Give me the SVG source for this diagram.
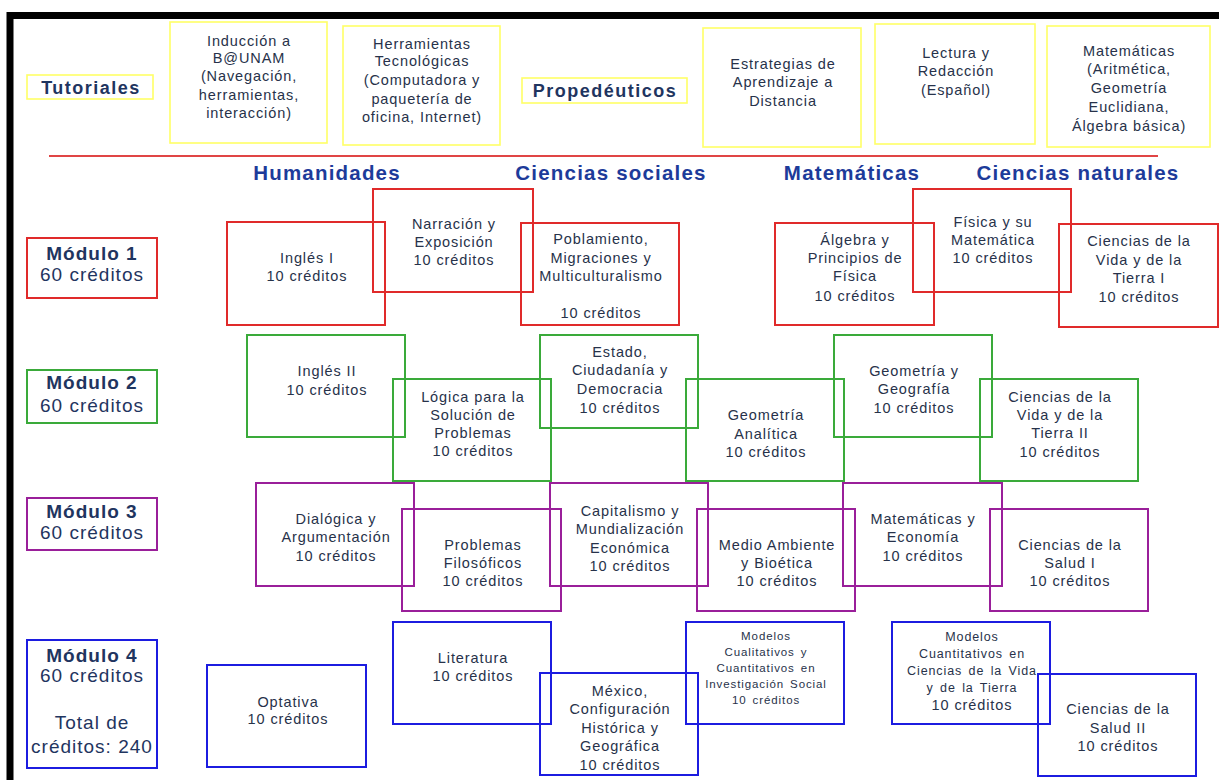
<svg xmlns="http://www.w3.org/2000/svg" width="1219" height="780" viewBox="0 0 1219 780">
<style>
text{font-family:"Liberation Sans",Arial,sans-serif;text-anchor:middle}
.t{font-size:14.5px;letter-spacing:0.9px;fill:#27324a}
.s{font-size:11.5px;letter-spacing:0.9px;word-spacing:2px;fill:#27324a}
.s2{font-size:12.5px;letter-spacing:0.9px;word-spacing:2px;fill:#27324a}
.h{font-size:20.5px;font-weight:bold;letter-spacing:1.2px;fill:#1d3b9a}
.lab{font-size:18px;font-weight:bold;letter-spacing:1.5px;fill:#1f3560}
.mb{font-size:19px;font-weight:bold;letter-spacing:1px;fill:#1f3560}
.mn{font-size:19px;letter-spacing:1px;fill:#1f3560}
rect{fill:none;stroke-width:2}
.y{stroke:#ffff66;stroke-width:1.6}
.r{stroke:#e02a2a}
.g{stroke:#3aaa3a}
.p{stroke:#9a1f9a}
.b{stroke:#1c1ce0}
</style>
<rect x="0" y="0" width="1219" height="780" style="fill:#fff;stroke:none"/>
<path d="M10,790 V15.5 H1230" fill="none" stroke="#000" stroke-width="7"/>
<line x1="49" y1="156" x2="1158" y2="156" stroke="#e04545" stroke-width="2"/>

<g id="tutoriales"><rect class="y" x="27" y="75" width="126" height="24"/><text class="lab" x="91" y="94">Tutoriales</text></g>
<g id="induccion"><rect class="y" x="170" y="22" width="157" height="121"/>
<text class="t" x="249" y="46">Inducción a</text><text class="t" x="249" y="63">B@UNAM</text><text class="t" x="249" y="81">(Navegación,</text><text class="t" x="249" y="100">herramientas,</text><text class="t" x="249" y="118">interacción)</text></g>
<g id="herramientas"><rect class="y" x="343" y="26" width="157" height="119"/>
<text class="t" x="422" y="49">Herramientas</text><text class="t" x="422" y="66">Tecnológicas</text><text class="t" x="422" y="85">(Computadora y</text><text class="t" x="422" y="104">paquetería de</text><text class="t" x="422" y="122">oficina, Internet)</text></g>
<g id="propedeuticos"><rect class="y" x="522" y="78" width="165" height="25"/><text class="lab" x="605" y="97">Propedéuticos</text></g>
<g id="estrategias"><rect class="y" x="703" y="28" width="158" height="119"/>
<text class="t" x="783" y="69">Estrategias de</text><text class="t" x="783" y="87">Aprendizaje a</text><text class="t" x="783" y="106">Distancia</text></g>
<g id="lectura"><rect class="y" x="875" y="24" width="160" height="120"/>
<text class="t" x="956" y="58">Lectura y</text><text class="t" x="956" y="76">Redacción</text><text class="t" x="956" y="95">(Español)</text></g>
<g id="matematicas-prop"><rect class="y" x="1047" y="26" width="163" height="121"/>
<text class="t" x="1129" y="56">Matemáticas</text><text class="t" x="1129" y="74">(Aritmética,</text><text class="t" x="1129" y="93">Geometría</text><text class="t" x="1129" y="112">Euclidiana,</text><text class="t" x="1129" y="131">Álgebra básica)</text></g>

<g id="headers">
<text class="h" x="327" y="180">Humanidades</text>
<text class="h" x="611" y="180">Ciencias sociales</text>
<text class="h" x="852" y="180">Matemáticas</text>
<text class="h" x="1078" y="180">Ciencias naturales</text>
</g>

<g id="modulo1"><rect class="r" x="27" y="238" width="130" height="60"/><text class="mb" x="92" y="260">Módulo 1</text><text class="mn" x="92" y="281">60 créditos</text></g>
<g id="modulo2"><rect class="g" x="27" y="370" width="130" height="53"/><text class="mb" x="92" y="389">Módulo 2</text><text class="mn" x="92" y="412">60 créditos</text></g>
<g id="modulo3"><rect class="p" x="27" y="498" width="130" height="52"/><text class="mb" x="92" y="518">Módulo 3</text><text class="mn" x="92" y="539">60 créditos</text></g>
<g id="modulo4"><rect class="b" x="27" y="640" width="130" height="128"/><text class="mb" x="92" y="662">Módulo 4</text><text class="mn" x="92" y="682">60 créditos</text><text class="mn" x="92" y="729">Total de</text><text class="mn" x="92" y="753">créditos: 240</text></g>

<g id="ingles1"><rect class="r" x="227" y="222" width="158" height="103"/><text class="t" x="307" y="263">Inglés I</text><text class="t" x="307" y="281">10 créditos</text></g>
<g id="narracion"><rect class="r" x="373" y="189" width="160" height="103"/><text class="t" x="454" y="229">Narración y</text><text class="t" x="454" y="247">Exposición</text><text class="t" x="454" y="265">10 créditos</text></g>
<g id="poblamiento"><rect class="r" x="521" y="223" width="158" height="102"/><text class="t" x="601" y="244">Poblamiento,</text><text class="t" x="601" y="263">Migraciones y</text><text class="t" x="601" y="281">Multiculturalismo</text><text class="t" x="601" y="318">10 créditos</text></g>
<g id="algebra"><rect class="r" x="775" y="223" width="159" height="102"/><text class="t" x="855" y="245">Álgebra y</text><text class="t" x="855" y="263">Principios de</text><text class="t" x="855" y="281">Física</text><text class="t" x="855" y="301">10 créditos</text></g>
<g id="fisica"><rect class="r" x="913" y="189" width="158" height="103"/><text class="t" x="993" y="227">Física y su</text><text class="t" x="993" y="245">Matemática</text><text class="t" x="993" y="263">10 créditos</text></g>
<g id="cvt1"><rect class="r" x="1059" y="224" width="159" height="103"/><text class="t" x="1139" y="246">Ciencias de la</text><text class="t" x="1139" y="265">Vida y de la</text><text class="t" x="1139" y="283">Tierra I</text><text class="t" x="1139" y="302">10 créditos</text></g>

<g id="ingles2"><rect class="g" x="247" y="335" width="158" height="102"/><text class="t" x="327" y="376">Inglés II</text><text class="t" x="327" y="395">10 créditos</text></g>
<g id="logica"><rect class="g" x="393" y="379" width="158" height="102"/><text class="t" x="473" y="402">Lógica para la</text><text class="t" x="473" y="420">Solución de</text><text class="t" x="473" y="438">Problemas</text><text class="t" x="473" y="456">10 créditos</text></g>
<g id="estado"><rect class="g" x="540" y="335" width="158" height="93"/><text class="t" x="620" y="357">Estado,</text><text class="t" x="620" y="375">Ciudadanía y</text><text class="t" x="620" y="394">Democracia</text><text class="t" x="620" y="413">10 créditos</text></g>
<g id="geomanalitica"><rect class="g" x="686" y="379" width="158" height="102"/><text class="t" x="766" y="420">Geometría</text><text class="t" x="766" y="439">Analítica</text><text class="t" x="766" y="457">10 créditos</text></g>
<g id="geomgeog"><rect class="g" x="834" y="335" width="158" height="102"/><text class="t" x="914" y="376">Geometría y</text><text class="t" x="914" y="394">Geografía</text><text class="t" x="914" y="413">10 créditos</text></g>
<g id="cvt2"><rect class="g" x="980" y="379" width="158" height="102"/><text class="t" x="1060" y="402">Ciencias de la</text><text class="t" x="1060" y="420">Vida y de la</text><text class="t" x="1060" y="438">Tierra II</text><text class="t" x="1060" y="457">10 créditos</text></g>

<g id="dialogica"><rect class="p" x="256" y="483" width="158" height="103"/><text class="t" x="336" y="524">Dialógica y</text><text class="t" x="336" y="542">Argumentación</text><text class="t" x="336" y="561">10 créditos</text></g>
<g id="problemas"><rect class="p" x="402" y="509" width="159" height="102"/><text class="t" x="483" y="550">Problemas</text><text class="t" x="483" y="568">Filosóficos</text><text class="t" x="483" y="586">10 créditos</text></g>
<g id="capitalismo"><rect class="p" x="550" y="483" width="158" height="103"/><text class="t" x="630" y="516">Capitalismo y</text><text class="t" x="630" y="534">Mundialización</text><text class="t" x="630" y="553">Económica</text><text class="t" x="630" y="571">10 créditos</text></g>
<g id="medioambiente"><rect class="p" x="697" y="509" width="158" height="102"/><text class="t" x="777" y="550">Medio Ambiente</text><text class="t" x="777" y="568">y Bioética</text><text class="t" x="777" y="586">10 créditos</text></g>
<g id="mateco"><rect class="p" x="843" y="483" width="159" height="103"/><text class="t" x="923" y="524">Matemáticas y</text><text class="t" x="923" y="542">Economía</text><text class="t" x="923" y="561">10 créditos</text></g>
<g id="salud1"><rect class="p" x="990" y="509" width="158" height="102"/><text class="t" x="1070" y="550">Ciencias de la</text><text class="t" x="1070" y="568">Salud I</text><text class="t" x="1070" y="586">10 créditos</text></g>

<g id="optativa"><rect class="b" x="207" y="665" width="159" height="102"/><text class="t" x="288" y="707">Optativa</text><text class="t" x="288" y="724">10 créditos</text></g>
<g id="literatura"><rect class="b" x="393" y="622" width="158" height="102"/><text class="t" x="473" y="663">Literatura</text><text class="t" x="473" y="681">10 créditos</text></g>
<g id="mexico"><rect class="b" x="540" y="673" width="158" height="102"/><text class="t" x="620" y="696">México,</text><text class="t" x="620" y="714">Configuración</text><text class="t" x="620" y="733">Histórica y</text><text class="t" x="620" y="751">Geográfica</text><text class="t" x="620" y="770">10 créditos</text></g>
<g id="modcual"><rect class="b" x="686" y="622" width="158" height="102"/><text class="s" x="766" y="640">Modelos</text><text class="s" x="766" y="656">Cualitativos y</text><text class="s" x="766" y="672">Cuantitativos en</text><text class="s" x="766" y="688">Investigación Social</text><text class="s" x="766" y="704">10 créditos</text></g>
<g id="modcuant"><rect class="b" x="892" y="622" width="158" height="102"/><text class="s2" x="972" y="641">Modelos</text><text class="s2" x="972" y="658">Cuantitativos en</text><text class="s2" x="972" y="675">Ciencias de la Vida</text><text class="s2" x="972" y="692">y de la Tierra</text><text class="t" x="972" y="710">10 créditos</text></g>
<g id="salud2"><rect class="b" x="1038" y="674" width="158" height="102"/><text class="t" x="1118" y="714">Ciencias de la</text><text class="t" x="1118" y="733">Salud II</text><text class="t" x="1118" y="751">10 créditos</text></g>
<g id="connectors"/>
</svg>
